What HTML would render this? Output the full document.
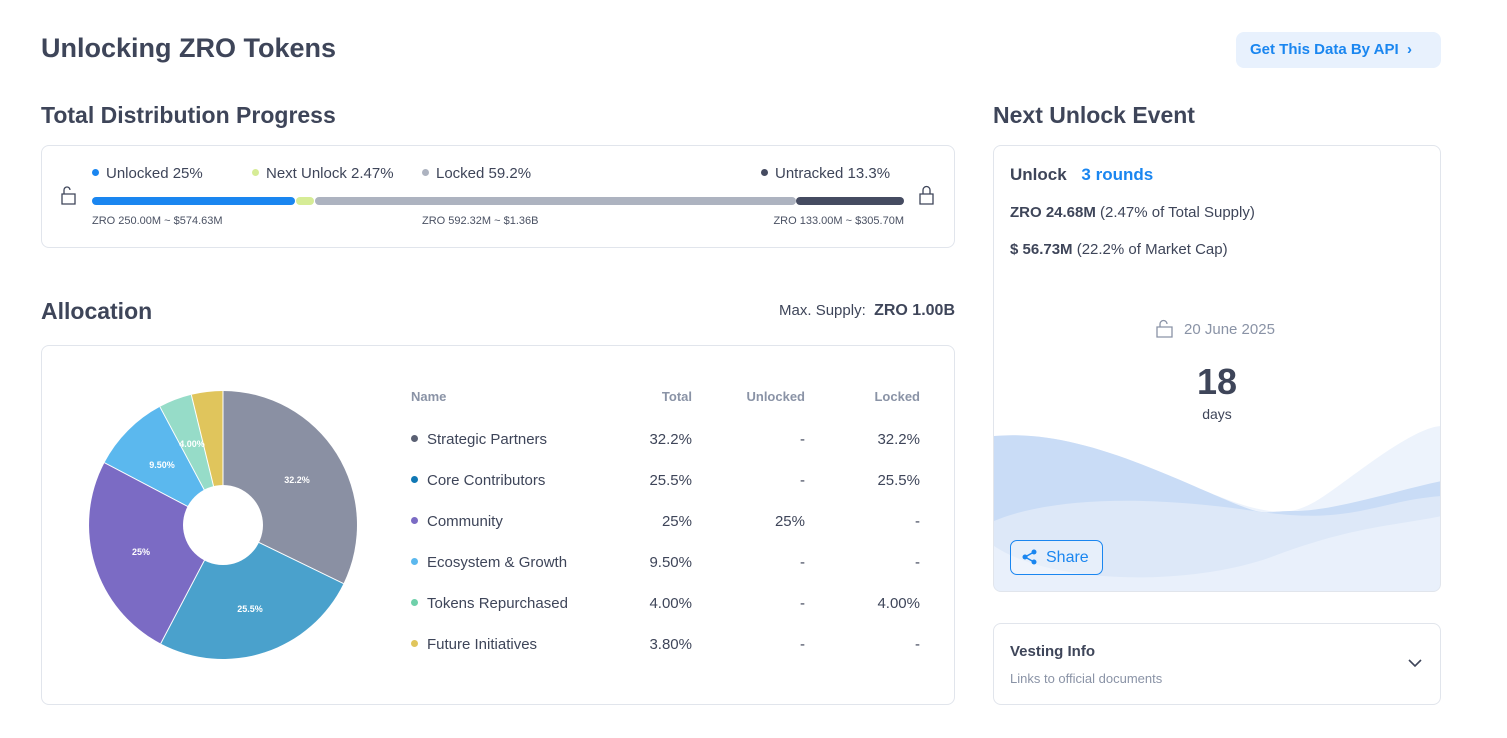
<!DOCTYPE html>
<html><head><meta charset="utf-8"><style>
*{margin:0;padding:0;box-sizing:border-box}
body{width:1507px;height:738px;background:#fff;font-family:"Liberation Sans",sans-serif;color:#3e4559;position:relative;overflow:hidden}
.a{position:absolute;white-space:nowrap}
.card{position:absolute;border:1px solid #e1e5ec;border-radius:8px;background:#fff}
.h2{font-size:23px;font-weight:bold;color:#3e4559}
.lg{font-size:15px;color:#3e4559}
.dot{display:inline-block;width:7px;height:7px;border-radius:50%;margin-right:7px;vertical-align:2px}
.sm{font-size:11px;color:#4a5163}
.th{font-size:13px;font-weight:bold;color:#8a93a6}
.td{font-size:15px;color:#3e4559}
.r{text-align:right}
</style></head><body>
<div class="a" style="left:41px;top:33px;font-size:27px;font-weight:bold;color:#3e4559">Unlocking ZRO Tokens</div>
<div class="a" style="left:1236px;top:32px;width:205px;height:36px;background:#e8f1fd;border-radius:8px;color:#1a86f0;font-size:15px;font-weight:bold;line-height:36px;padding-left:14px">Get This Data By API &nbsp;›</div>

<div class="a h2" style="left:41px;top:102px">Total Distribution Progress</div>
<div class="card" style="left:41px;top:145px;width:914px;height:103px"></div>
<div class="a lg" style="left:92px;top:165px"><span class="dot" style="background:#1a86f0"></span>Unlocked 25%</div>
<div class="a lg" style="left:252px;top:165px"><span class="dot" style="background:#d6ec96"></span>Next Unlock 2.47%</div>
<div class="a lg" style="left:422px;top:165px"><span class="dot" style="background:#adb3c0"></span>Locked 59.2%</div>
<div class="a lg" style="left:761px;top:165px"><span class="dot" style="background:#454b61"></span>Untracked 13.3%</div>
<div class="a" style="left:92px;top:197px;width:203px;height:8px;border-radius:4px;background:#1a86f0"></div>
<div class="a" style="left:296px;top:197px;width:18px;height:8px;border-radius:4px;background:#d6ec96"></div>
<div class="a" style="left:315px;top:197px;width:481px;height:8px;border-radius:4px;background:#adb3c0"></div>
<div class="a" style="left:796px;top:197px;width:108px;height:8px;border-radius:4px;background:#454b61"></div>
<svg class="a" style="left:60px;top:185px" width="18" height="20"><path d="M2 9h13v10H2z M4 9V5a3 3 0 0 1 6 0" fill="none" stroke="#3e4559" stroke-width="1.3"/></svg>
<svg class="a" style="left:918px;top:185px" width="18" height="20"><path d="M2 9h13v10H2z M5 9V5a3.5 3.5 0 0 1 7 0v4" fill="none" stroke="#3e4559" stroke-width="1.3"/></svg>
<div class="a sm" style="left:92px;top:215px">ZRO 250.00M ~ $574.63M</div>
<div class="a sm" style="left:422px;top:215px">ZRO 592.32M ~ $1.36B</div>
<div class="a sm r" style="left:704px;width:200px;top:215px">ZRO 133.00M ~ $305.70M</div>

<div class="a h2" style="left:41px;top:298px">Allocation</div>
<div class="a r" style="left:655px;width:300px;top:302px;font-size:15px">Max. Supply: &nbsp;<b style="font-size:16px">ZRO 1.00B</b></div>
<div class="card" style="left:41px;top:345px;width:914px;height:360px"></div>
<svg class="a" style="left:0;top:0" width="400" height="738">
<path d="M223 525L223 391A134 134 0 0 1 343.5 583.6Z" fill="#8a90a3"/>
<path d="M223 525L343.5 583.6A134 134 0 0 1 160.7 643.6Z" fill="#4aa1cc"/>
<path d="M223 525L160.7 643.6A134 134 0 0 1 104.4 462.7Z" fill="#7b6bc4"/>
<path d="M223 525L104.4 462.7A134 134 0 0 1 159.9 406.8Z" fill="#5bb8ee"/>
<path d="M223 525L159.9 406.8A134 134 0 0 1 191.3 394.8Z" fill="#96dcc8"/>
<path d="M223 525L191.3 394.8A134 134 0 0 1 223 391Z" fill="#e0c55c"/>
<g stroke="#fff" stroke-width="1"><line x1="223" y1="525" x2="223" y2="391"/><line x1="223" y1="525" x2="343.5" y2="583.6"/><line x1="223" y1="525" x2="160.7" y2="643.6"/><line x1="223" y1="525" x2="104.4" y2="462.7"/><line x1="223" y1="525" x2="159.9" y2="406.8"/><line x1="223" y1="525" x2="191.3" y2="394.8"/></g>
<circle cx="223" cy="525" r="40" fill="#fff"/>
<g fill="#fff" font-size="9" font-weight="bold" font-family="Liberation Sans" text-anchor="middle">
<text x="297" y="483">32.2%</text><text x="250" y="612">25.5%</text><text x="141" y="555">25%</text><text x="162" y="468">9.50%</text><text x="192" y="447">4.00%</text></g>
</svg>
<div class="a th" style="left:411px;top:389px">Name</div>
<div class="a th r" style="left:600px;top:389px;width:92px">Total</div>
<div class="a th r" style="left:700px;top:389px;width:105px">Unlocked</div>
<div class="a th r" style="left:820px;top:389px;width:100px">Locked</div>
<div class="a" style="left:411px;top:431px;width:510px">
<div style="position:relative;height:41px" class="td"><span class="dot" style="background:#5a6073;margin-right:9px"></span>Strategic Partners<span class="a r" style="left:190px;width:91px;top:0">32.2%</span><span class="a r" style="left:300px;width:94px;top:0">-</span><span class="a r" style="left:400px;width:109px;top:0">32.2%</span></div>
<div style="position:relative;height:41px" class="td"><span class="dot" style="background:#1078b4;margin-right:9px"></span>Core Contributors<span class="a r" style="left:190px;width:91px;top:0">25.5%</span><span class="a r" style="left:300px;width:94px;top:0">-</span><span class="a r" style="left:400px;width:109px;top:0">25.5%</span></div>
<div style="position:relative;height:41px" class="td"><span class="dot" style="background:#7b6bc4;margin-right:9px"></span>Community<span class="a r" style="left:190px;width:91px;top:0">25%</span><span class="a r" style="left:300px;width:94px;top:0">25%</span><span class="a r" style="left:400px;width:109px;top:0">-</span></div>
<div style="position:relative;height:41px" class="td"><span class="dot" style="background:#5bb8ee;margin-right:9px"></span>Ecosystem &amp; Growth<span class="a r" style="left:190px;width:91px;top:0">9.50%</span><span class="a r" style="left:300px;width:94px;top:0">-</span><span class="a r" style="left:400px;width:109px;top:0">-</span></div>
<div style="position:relative;height:41px" class="td"><span class="dot" style="background:#6fd0aa;margin-right:9px"></span>Tokens Repurchased<span class="a r" style="left:190px;width:91px;top:0">4.00%</span><span class="a r" style="left:300px;width:94px;top:0">-</span><span class="a r" style="left:400px;width:109px;top:0">4.00%</span></div>
<div style="position:relative;height:41px" class="td"><span class="dot" style="background:#e0c55c;margin-right:9px"></span>Future Initiatives<span class="a r" style="left:190px;width:91px;top:0">3.80%</span><span class="a r" style="left:300px;width:94px;top:0">-</span><span class="a r" style="left:400px;width:109px;top:0">-</span></div>
</div>

<div class="a h2" style="left:993px;top:102px">Next Unlock Event</div>
<div class="card" style="left:993px;top:145px;width:448px;height:447px;overflow:hidden">
<svg style="position:absolute;left:0;top:280px" width="448" height="167">
<path d="M0 10C60 5 120 25 200 60S300 90 330 70 420 0 448 0V167H0Z" fill="#edf3fc"/>
<path d="M0 10C60 5 120 25 200 60S260 85 300 85 400 65 448 55V167H0Z" fill="#c9dcf6"/>
<path d="M0 95C60 70 160 70 260 85S380 75 448 70V167H0Z" fill="#dde8f8"/>
<path d="M0 120C60 160 200 160 280 130S400 100 448 90V167H0Z" fill="#e9f0fb"/>
</svg>
</div>
<div class="a" style="left:1010px;top:165px;font-size:17px;font-weight:bold">Unlock <span style="color:#1a86f0;margin-left:10px">3 rounds</span></div>
<div class="a" style="left:1010px;top:204px;font-size:15px"><b>ZRO 24.68M</b> (2.47% of Total Supply)</div>
<div class="a" style="left:1010px;top:241px;font-size:15px"><b>$ 56.73M</b> (22.2% of Market Cap)</div>
<svg class="a" style="left:1155px;top:319px" width="20" height="20"><path d="M2 8h15v10H2z M5 8V5a3.5 3.5 0 0 1 7 0" fill="none" stroke="#8a93a6" stroke-width="1.3"/></svg>
<div class="a" style="left:1184px;top:321px;font-size:15px;color:#8a93a6">20 June 2025</div>
<div class="a" style="left:1117px;top:361px;width:200px;text-align:center;font-size:36px;font-weight:bold">18</div>
<div class="a" style="left:1117px;top:406px;width:200px;text-align:center;font-size:14px">days</div>
<div class="a" style="left:1010px;top:540px;width:93px;height:35px;border:1px solid #1a86f0;border-radius:7px;color:#1a86f0;font-size:16px;line-height:33px;padding-left:35px;background:rgba(255,255,255,0.3)">Share</div>
<svg class="a" style="left:1022px;top:549px" width="16" height="16"><g fill="#1a86f0"><circle cx="3" cy="8" r="2.5"/><circle cx="12" cy="3" r="2.5"/><circle cx="12" cy="13" r="2.5"/></g><path d="M3 8L12 3M3 8L12 13" stroke="#1a86f0" stroke-width="1.5"/></svg>

<div class="card" style="left:993px;top:623px;width:448px;height:82px"></div>
<div class="a" style="left:1010px;top:643px;font-size:15px;font-weight:bold">Vesting Info</div>
<div class="a" style="left:1010px;top:671px;font-size:13px;color:#8a93a6">Links to official documents</div>
<svg class="a" style="left:1408px;top:658px" width="14" height="10"><path d="M1 2l6 6 6-6" fill="none" stroke="#3e4559" stroke-width="1.6"/></svg>
</body></html>
